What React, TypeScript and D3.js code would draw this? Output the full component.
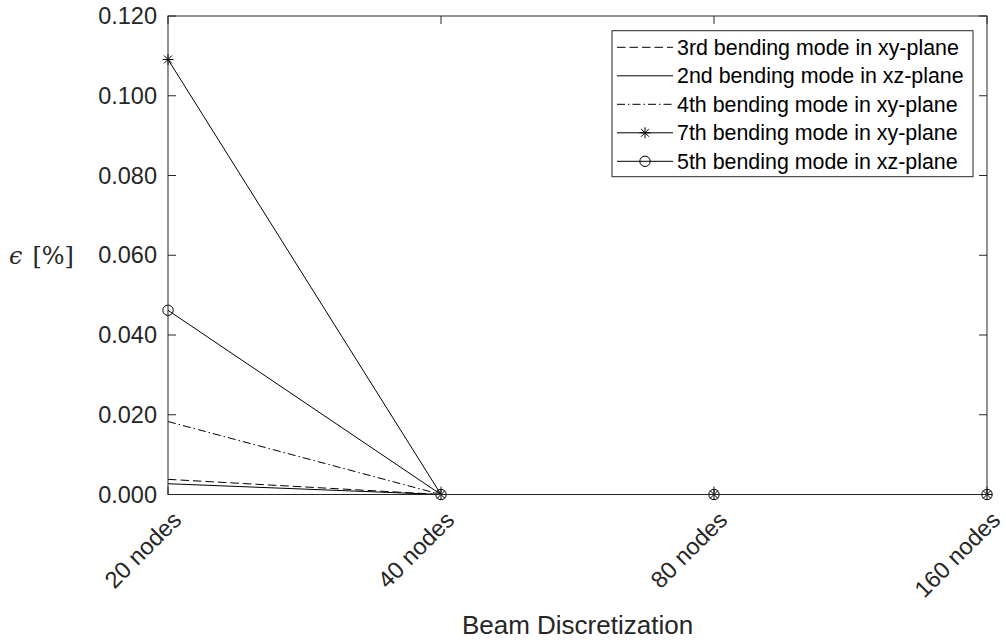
import React from "react";
import * as d3 from "d3";

const categories = ["20 nodes", "40 nodes", "80 nodes", "160 nodes"];
const mode3xy = [0.0038, 0, 0, 0];
const mode2xz = [0.0027, 0, 0, 0];
const mode4xy = [0.0183, 0, 0, 0];
const mode7xy = [0.1091, 0, 0, 0];
const mode5xz = [0.0462, 0, 0, 0];
const yTicks = [0, 0.02, 0.04, 0.06, 0.08, 0.1, 0.12];

const seriesNames = [
  "3rd bending mode in xy-plane",
  "2nd bending mode in xz-plane",
  "4th bending mode in xy-plane",
  "7th bending mode in xy-plane",
  "5th bending mode in xz-plane",
];

const W = 1006;
const H = 642;
const L = 168, R = 987, T = 16, B = 494.5;
const AX = "#262626";
const FONT = "Liberation Sans, Arial, Helvetica, sans-serif";

type S = { name: string; values: number[]; dash?: string; marker?: "star" | "circle" };

const series: S[] = [
  { name: seriesNames[0], values: mode3xy, dash: "8.5,4" },
  { name: seriesNames[1], values: mode2xz },
  { name: seriesNames[2], values: mode4xy, dash: "8,3,1.5,3" },
  { name: seriesNames[3], values: mode7xy, marker: "star" },
  { name: seriesNames[4], values: mode5xz, marker: "circle" },
];

function Marker({ kind, x, y }: { kind?: string; x: number; y: number }) {
  if (kind === "star") {
    const s = 5.5;
    const d = s * 0.72;
    return (
      <g stroke="#000" strokeWidth={1} fill="none">
        <line x1={x - s} y1={y} x2={x + s} y2={y} />
        <line x1={x} y1={y - s} x2={x} y2={y + s} />
        <line x1={x - d} y1={y - d} x2={x + d} y2={y + d} />
        <line x1={x - d} y1={y + d} x2={x + d} y2={y - d} />
      </g>
    );
  }
  if (kind === "circle") {
    return <circle cx={x} cy={y} r={5.2} fill="none" stroke="#000" strokeWidth={1} />;
  }
  return null;
}

export default function App() {
  const x = d3.scalePoint<string>().domain(categories).range([L, R]);
  const y = d3.scaleLinear().domain([0, 0.12]).range([B, T]);
  const line = d3
    .line<number>()
    .x((_, i) => x(categories[i]) as number)
    .y((d) => y(d));
  const fmt = d3.format(".3f");

  const legX = 612, legY = 30.7, legW = 361, legH = 146;
  const rowY = (i: number) => 47.3 + i * 28.5;

  return (
    <svg width={W} height={H} style={{ position: "absolute", left: 0, top: 0, background: "#fff" }}>
      <rect x={0} y={0} width={W} height={H} fill="#fff" />
      {/* data lines */}
      {series.map((s, si) => (
        <g key={si}>
          <path d={line(s.values) || ""} fill="none" stroke="#000" strokeWidth={1} strokeDasharray={s.dash} />
          {s.marker &&
            s.values.map((v, i) => <Marker key={i} kind={s.marker} x={x(categories[i]) as number} y={y(v)} />)}
        </g>
      ))}
      {/* axes box */}
      <rect x={L} y={T} width={R - L} height={B - T} fill="none" stroke={AX} strokeWidth={1} />
      {/* y ticks */}
      {yTicks.map((t, i) => (
        <g key={i}>
          <line x1={L} x2={L + 8} y1={y(t)} y2={y(t)} stroke={AX} />
          <line x1={R} x2={R - 8} y1={y(t)} y2={y(t)} stroke={AX} />
          <text x={157} y={y(t)} dy="0.35em" textAnchor="end" fontFamily={FONT} fontSize={23.5} fill={AX}>
            {fmt(t)}
          </text>
        </g>
      ))}
      {/* x ticks */}
      {categories.map((c, i) => {
        const cx = x(c) as number;
        return (
          <g key={i}>
            <line x1={cx} x2={cx} y1={B} y2={B - 8} stroke={AX} />
            <line x1={cx} x2={cx} y1={T} y2={T + 8} stroke={AX} />
            <text
              transform={`translate(${cx + 9},${B + 21}) rotate(-45)`}
              dy="0.35em"
              textAnchor="end"
              fontFamily={FONT}
              fontSize={23.5}
              fill={AX}
            >
              {c}
            </text>
          </g>
        );
      })}
      {/* axis labels */}
      <text x={(L + R) / 2} y={634} textAnchor="middle" fontFamily={FONT} fontSize={26} fill={AX}>
        Beam Discretization
      </text>
      <text x={9} y={(T + B) / 2} dy="0.35em" fontFamily="DejaVu Serif, Liberation Serif, serif" fontSize={24} fill={AX}>
        <tspan fontStyle="italic">ϵ</tspan>
        <tspan dx={10}>[%]</tspan>
      </text>
      {/* legend */}
      <rect x={legX} y={legY} width={legW} height={legH} fill="#fff" stroke={AX} strokeWidth={1} />
      {series.map((s, i) => {
        const ry = rowY(i);
        return (
          <g key={i}>
            <line x1={617} x2={673} y1={ry} y2={ry} stroke="#000" strokeWidth={1} strokeDasharray={s.dash} />
            <Marker kind={s.marker} x={645} y={ry} />
            <text x={677} y={ry} dy="0.35em" fontFamily={FONT} fontSize={21.4} fill="#000">
              {s.name}
            </text>
          </g>
        );
      })}
    </svg>
  );
}
